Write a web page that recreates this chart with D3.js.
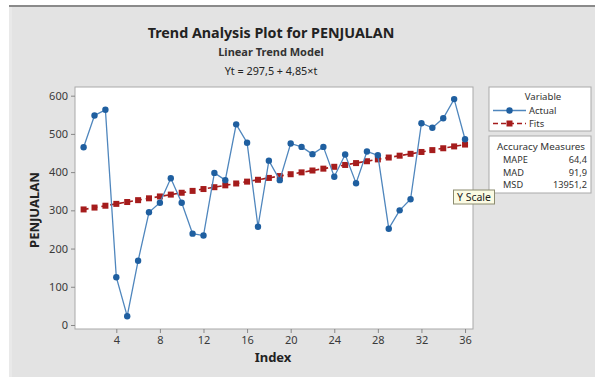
<!DOCTYPE html>
<html>
<head>
<meta charset="utf-8">
<script src="https://cdn.jsdelivr.net/npm/d3@7"></script>
<style>
  html, body { margin: 0; padding: 0; background: #ffffff; }
  svg { display: block; font-family: "Noto Sans", "Open Sans", sans-serif; }
</style>
</head>
<body>
<svg id="chart" width="595" height="377"></svg>
<script>
// Observation index 1..36
const periods = d3.range(1, 37);

// Actual sales (PENJUALAN)
const actual = [465, 548, 563, 125, 23, 168, 295, 320, 384, 320, 239, 234,
                398, 379, 525, 477, 257, 430, 379, 475, 466, 447, 466, 388,
                446, 371, 454, 444, 252, 300, 329, 528, 516, 541, 591, 486];

// Fitted trend values, Yt = 297.5 + 4.85*t
const fits = [302.35, 307.2, 312.05, 316.9, 321.75, 326.6, 331.45, 336.3, 341.15,
              346, 350.85, 355.7, 360.55, 365.4, 370.25, 375.1, 379.95, 384.8,
              389.65, 394.5, 399.35, 404.2, 409.05, 413.9, 418.75, 423.6, 428.45,
              433.3, 438.15, 443, 447.85, 452.7, 457.55, 462.4, 467.25, 472.1];

const xTicks = [4, 8, 12, 16, 20, 24, 28, 32, 36];
const yTicks = [0, 100, 200, 300, 400, 500, 600];

const titleLines = ["Trend Analysis Plot for PENJUALAN", "Linear Trend Model", "Yt = 297,5 + 4,85×t"];
const legendItems = ["Actual", "Fits"];
const accuracyNames = ["MAPE", "MAD", "MSD"];
const accuracyValues = ["64,4", "91,9", "13951,2"];

const svg = d3.select("#chart");
const W = 595, H = 377;
const plot = { left: 75, top: 87, right: 473, bottom: 329 };

const blue = "#1f5fa0";
const lineBlue = "#4f86bd";
const red = "#a51c1c";
const textCol = "#333";

// Window background
svg.append("rect").attr("x", 9).attr("y", 5).attr("width", W - 9).attr("height", H - 5).attr("fill", "#e3e3e3");
svg.append("rect").attr("x", 9).attr("y", 5).attr("width", 3).attr("height", H - 5).attr("fill", "#e9e9e9");
svg.append("rect").attr("x", 9).attr("y", 5).attr("width", W - 9).attr("height", 2).attr("fill", "#8a8a8a");

// Titles
const titleG = svg.append("g").attr("text-anchor", "middle").attr("fill", "#222");
titleG.append("text").attr("x", 271).attr("y", 38).attr("font-size", 14.3).attr("font-weight", "bold").text(titleLines[0]);
titleG.append("text").attr("x", 271).attr("y", 56).attr("font-size", 11).attr("font-weight", "bold").attr("fill", "#333").text(titleLines[1]);
titleG.append("text").attr("x", 271).attr("y", 75).attr("font-size", 10.8).attr("fill", "#222").text(titleLines[2]);

// Scales
const x = d3.scaleLinear().domain([0.21, 36.73]).range([plot.left, plot.right]);
const y = d3.scaleLinear().domain([-10.5, 622.7]).range([plot.bottom, plot.top]);

// Plot area
svg.append("rect")
  .attr("x", plot.left).attr("y", plot.top)
  .attr("width", plot.right - plot.left).attr("height", plot.bottom - plot.top)
  .attr("fill", "#ffffff").attr("stroke", "#a9a9a9").attr("stroke-width", 1);

// Axes
const xAxis = svg.append("g")
  .attr("transform", `translate(0,${plot.bottom})`)
  .call(d3.axisBottom(x).tickValues(xTicks).tickSize(4).tickPadding(3));
const yAxis = svg.append("g")
  .attr("transform", `translate(${plot.left},0)`)
  .call(d3.axisLeft(y).tickValues(yTicks).tickSize(4).tickPadding(3));
[xAxis, yAxis].forEach(g => {
  g.select(".domain").remove();
  g.selectAll(".tick line").attr("stroke", "#888");
  g.selectAll(".tick text").attr("fill", "#3a3a3a").attr("font-size", 11)
    .attr("font-family", "\"Noto Sans\", sans-serif");
});

// Axis titles
svg.append("text").attr("x", 273).attr("y", 362).attr("text-anchor", "middle")
  .attr("font-size", 13).attr("font-weight", "bold").attr("fill", "#222").text("Index");
svg.append("text").attr("transform", "translate(39,210) rotate(-90)").attr("text-anchor", "middle")
  .attr("font-size", 13).attr("font-weight", "bold").attr("fill", "#222").text("PENJUALAN");

// Fitted trend
const fitLine = d3.line().x((d, i) => x(periods[i])).y(d => y(d));
svg.append("path").datum(fits).attr("d", fitLine)
  .attr("fill", "none").attr("stroke", red).attr("stroke-width", 1.6).attr("stroke-dasharray", "5,4");
svg.append("g").selectAll("rect").data(fits).join("rect")
  .attr("x", (d, i) => x(periods[i]) - 3).attr("y", d => y(d) - 3)
  .attr("width", 6).attr("height", 6).attr("fill", red);

// Actual series
const actLine = d3.line().x((d, i) => x(periods[i])).y(d => y(d));
svg.append("path").datum(actual).attr("d", actLine)
  .attr("fill", "none").attr("stroke", lineBlue).attr("stroke-width", 1.3);
svg.append("g").selectAll("circle").data(actual).join("circle")
  .attr("cx", (d, i) => x(periods[i])).attr("cy", d => y(d)).attr("r", 3.2).attr("fill", blue);

// Legend
const leg = svg.append("g");
leg.append("rect").attr("x", 489).attr("y", 87).attr("width", 102).attr("height", 44)
  .attr("fill", "#fff").attr("stroke", "#a9a9a9");
leg.append("text").attr("x", 543).attr("y", 99.5).attr("text-anchor", "middle")
  .attr("font-size", 9.6).attr("fill", textCol).text("Variable");
legendItems.forEach((name, i) => {
  const yy = 110.5 + i * 13;
  if (i === 0) {
    leg.append("line").attr("x1", 493).attr("x2", 526).attr("y1", yy).attr("y2", yy)
      .attr("stroke", lineBlue).attr("stroke-width", 1.3);
    leg.append("circle").attr("cx", 509.5).attr("cy", yy).attr("r", 3.2).attr("fill", blue);
  } else {
    leg.append("line").attr("x1", 493).attr("x2", 526).attr("y1", yy).attr("y2", yy)
      .attr("stroke", red).attr("stroke-width", 1.3).attr("stroke-dasharray", "5,3");
    leg.append("rect").attr("x", 506.5).attr("y", yy - 3).attr("width", 6).attr("height", 6).attr("fill", red);
  }
  leg.append("text").attr("x", 529).attr("y", yy + 3.3).attr("font-size", 9.4).attr("fill", textCol).text(name);
});

// Accuracy measures box
const acc = svg.append("g");
acc.append("rect").attr("x", 489).attr("y", 136).attr("width", 102).attr("height", 57)
  .attr("fill", "#fff").attr("stroke", "#a9a9a9");
acc.append("text").attr("x", 541).attr("y", 149.5).attr("text-anchor", "middle")
  .attr("font-size", 9.8).attr("fill", textCol).text("Accuracy Measures");
accuracyNames.forEach((name, i) => {
  const yy = 163 + i * 12.5;
  acc.append("text").attr("x", 503).attr("y", yy).attr("font-size", 9.2).attr("fill", textCol).text(name);
  acc.append("text").attr("x", 587).attr("y", yy).attr("text-anchor", "end")
    .attr("font-size", 9.2).attr("fill", textCol).text(accuracyValues[i]);
});

// Tooltip label
const tip = svg.append("g");
tip.append("rect").attr("x", 453.5).attr("y", 190).attr("width", 41).attr("height", 14)
  .attr("fill", "#fbfbe3").attr("stroke", "#8c8c70");
tip.append("text").attr("x", 474).attr("y", 201).attr("text-anchor", "middle")
  .attr("font-size", 10.5).attr("fill", "#222").text("Y Scale");
</script>
</body>
</html>
